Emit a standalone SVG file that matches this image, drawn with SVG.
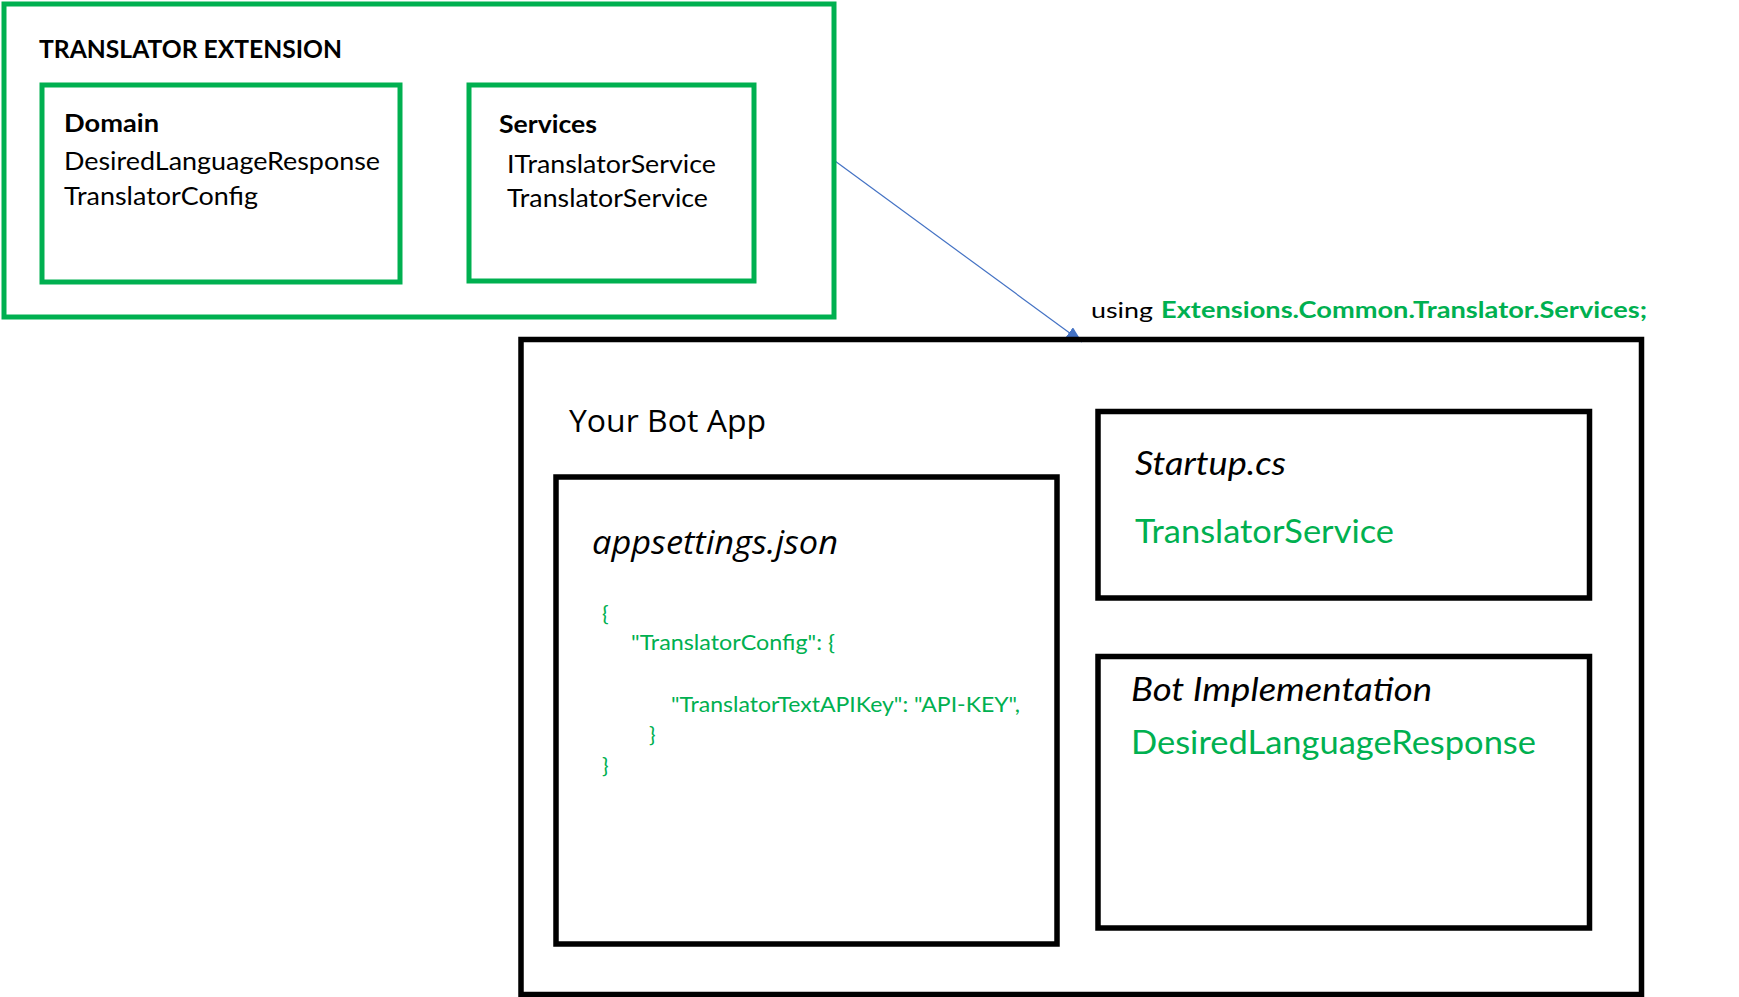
<svg xmlns="http://www.w3.org/2000/svg" width="1739" height="997" viewBox="0 0 1739 997">
<defs>
<style>
.g{fill:none;stroke:#00B050;stroke-width:5}
.b{fill:none;stroke:#000;stroke-width:5.5}
.c{font-family:Lato,"Liberation Sans",sans-serif;fill:#000}
.s{font-family:"Open Sans","Liberation Sans",sans-serif;fill:#000}
.bold{font-weight:bold}
.it{font-style:italic}
.grn{fill:#00B050}
.t26{font-size:25.5px}
.t20{font-size:22px}
.t21{font-size:22px}
.t32{font-size:32px}
</style>
<marker id="arr" viewBox="0 0 16 13" refX="16" refY="6.5" markerWidth="16" markerHeight="13" markerUnits="userSpaceOnUse" orient="auto">
<path d="M0,0 L16,6.5 L0,13 Z" fill="#4472C4"/>
</marker>
</defs>
<rect width="1739" height="997" fill="#fff"/>
<g id="connectors">
<line x1="835" y1="161" x2="1082" y2="342" stroke="#4472C4" stroke-width="1.2" marker-end="url(#arr)"/>
<text class="c t20" x="1091" y="318" textLength="62" lengthAdjust="spacingAndGlyphs">using</text>
<text class="c t20 bold grn" x="1161" y="318" textLength="486" lengthAdjust="spacingAndGlyphs">Extensions.Common.Translator.Services;</text>
</g>
<g id="translator-extension">
<rect class="g" x="4" y="4" width="830" height="313" stroke-width="5.5"/>
<text class="c t26 bold" x="39" y="58" textLength="303" lengthAdjust="spacingAndGlyphs">TRANSLATOR EXTENSION</text>
</g>
<g id="domain">
<rect class="g" x="42" y="85" width="358" height="197" stroke-width="4.5"/>
<text class="c t26 bold" x="64" y="132" textLength="95" lengthAdjust="spacingAndGlyphs">Domain</text>
<text class="c t26" x="64" y="170" textLength="316" lengthAdjust="spacingAndGlyphs">DesiredLanguageResponse</text>
<text class="c t26" x="64" y="205" textLength="194" lengthAdjust="spacingAndGlyphs">TranslatorConfig</text>
</g>
<g id="services">
<rect class="g" x="469" y="85" width="285" height="196" stroke-width="4.5"/>
<text class="c t26 bold" x="499" y="133" textLength="98" lengthAdjust="spacingAndGlyphs">Services</text>
<text class="c t26" x="507" y="173" textLength="209" lengthAdjust="spacingAndGlyphs">ITranslatorService</text>
<text class="c t26" x="507" y="207" textLength="201" lengthAdjust="spacingAndGlyphs">TranslatorService</text>
</g>
<g id="bot-app">
<rect class="b" x="521" y="339.5" width="1120.5" height="655" stroke-width="5"/>
<text class="s" font-size="31" x="569" y="432" textLength="197" lengthAdjust="spacingAndGlyphs">Your Bot App</text>
</g>
<g id="appsettings">
<rect class="b" x="556" y="477" width="501" height="467"/>
<text class="s it" font-size="33" x="592" y="554" textLength="246" lengthAdjust="spacingAndGlyphs">appsettings.json</text>
<text class="c t21 grn" x="602" y="621">{</text>
<text class="c t21 grn" x="631" y="650" textLength="204" lengthAdjust="spacingAndGlyphs">"TranslatorConfig": {</text>
<text class="c t21 grn" x="671" y="712" textLength="349" lengthAdjust="spacingAndGlyphs">"TranslatorTextAPIKey": "API-KEY",</text>
<text class="c t21 grn" x="649" y="742">}</text>
<text class="c t21 grn" x="602" y="773">}</text>
</g>
<g id="startup">
<rect class="b" x="1098" y="411.5" width="491.5" height="186.5"/>
<text class="c t32 it" x="1135" y="475" textLength="151" lengthAdjust="spacingAndGlyphs">Startup.cs</text>
<text class="c t32 grn" x="1135" y="543" textLength="259" lengthAdjust="spacingAndGlyphs">TranslatorService</text>
</g>
<g id="bot-implementation">
<rect class="b" x="1098" y="656.5" width="491.5" height="271.5"/>
<text class="c t32 it" x="1131" y="701" textLength="301" lengthAdjust="spacingAndGlyphs">Bot Implementation</text>
<text class="c t32 grn" x="1131" y="754" textLength="405" lengthAdjust="spacingAndGlyphs">DesiredLanguageResponse</text>
</g>
</svg>
